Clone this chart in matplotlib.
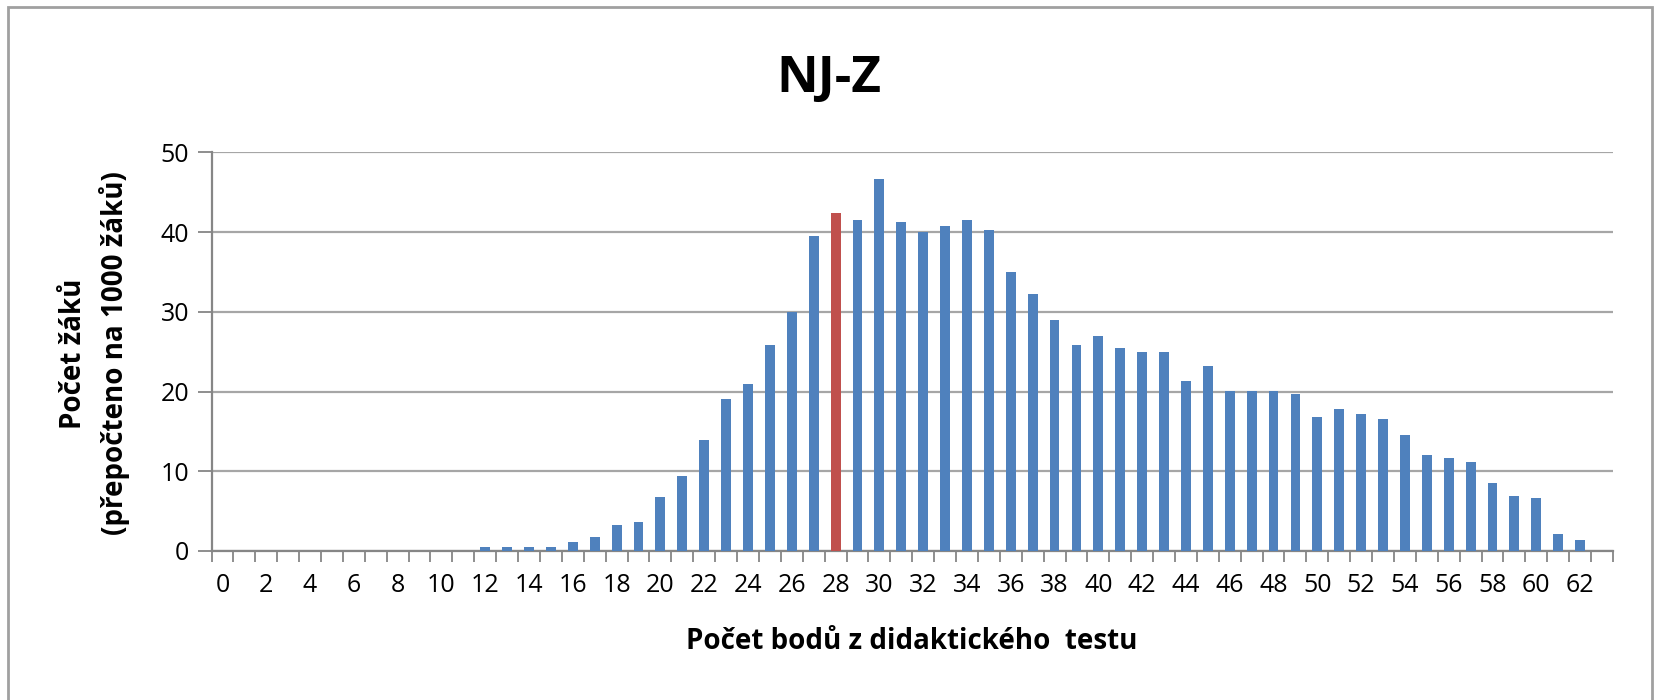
import matplotlib.pyplot as plt
import numpy as np
from matplotlib.patches import Rectangle

plt.rcParams['font.family'] = ['Open Sans', 'DejaVu Sans']

points = list(range(0, 63))
counts = [0, 0, 0, 0, 0, 0, 0, 0, 0, 0, 0, 0,
          0.5, 0.5, 0.5, 0.5, 1.1, 1.7, 3.3, 3.6,
          6.8, 9.4, 13.9, 19.0, 20.9, 25.8, 30.0, 39.5,
          42.4, 41.5, 46.6, 41.2, 40.0, 40.8, 41.5, 40.2,
          35.0, 32.2, 29.0, 25.8, 27.0, 25.4, 24.9, 24.9,
          21.3, 23.2, 20.1, 20.1, 20.1, 19.7, 16.8, 17.8,
          17.2, 16.5, 14.6, 12.0, 11.6, 11.1, 8.5, 6.9,
          6.6, 2.1, 1.4]
highlight = 28
y_ticks = [0, 10, 20, 30, 40, 50]

BLUE = '#4F81BD'
RED = '#C0504D'
GRID = '#A6A6A6'
AXIS = '#868686'


def main():
    fig = plt.figure(figsize=(16.55, 7.0), dpi=100)
    ax = fig.add_axes([0.1278, 0.2129, 0.8468, 0.5695])

    # chart frame (left, top, right)
    fig.patches.append(Rectangle((8 / 1655, -0.05), 1644 / 1655, 1 - 7 / 700 + 0.05,
                                 transform=fig.transFigure, fill=False,
                                 edgecolor='#A0A0A0', linewidth=2))

    colors = [RED if p == highlight else BLUE for p in points]
    ax.bar(points, counts, width=0.45, color=colors, zorder=3)

    # one empty category slot after the last score
    ax.set_xlim(-0.5, 63.5)
    ax.set_ylim(0, 50)
    ax.set_yticks(y_ticks)
    ax.set_yticklabels([str(v) for v in y_ticks], fontsize=18)
    ax.yaxis.grid(True, color=GRID, linewidth=1.6, zorder=0)
    ax.tick_params(axis='y', direction='out', length=10, width=1.3, color=AXIS, pad=6)

    ax.set_xticks(np.arange(-0.5, 64, 1.0))
    ax.set_xticklabels([])
    ax.tick_params(axis='x', which='major', direction='out', length=8, width=1.3, color=AXIS)
    ax.set_xticks(points[::2], [str(p) for p in points[::2]], minor=True)
    ax.tick_params(axis='x', which='minor', length=0, labelsize=18, pad=16)

    for s in ['top', 'right']:
        ax.spines[s].set_visible(False)
    for s in ['left', 'bottom']:
        ax.spines[s].set_color(AXIS)
        ax.spines[s].set_linewidth(1.6)

    fig.text(0.501, 0.887, 'NJ-Z', ha='center', va='center', fontsize=37, fontweight='bold')
    fig.text(0.551, 0.084, 'Počet bodů z didaktického  testu', ha='center', va='center',
             fontsize=20, fontweight='bold')
    fig.text(0.0573, 0.495, 'Počet žáků\n(přepočteno na 1000 žáků)', ha='center', va='center',
             rotation=90, fontsize=20, fontweight='bold', linespacing=1.45)

    fig.savefig('out.png', dpi=100)


if __name__ == '__main__':
    main()
